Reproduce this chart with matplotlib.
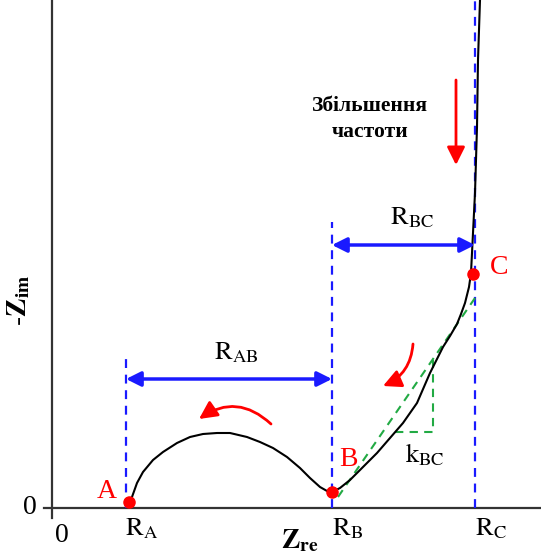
import numpy as np
import matplotlib.pyplot as plt

plt.rcParams['mathtext.fontset'] = 'stix'

# resistances along Z_re (arbitrary units)
R_A = 74
R_B = 280
R_C = 423

# semicircle A -> B
arc_x = [77, 80, 85, 91, 101, 111, 125, 138, 151, 165, 178, 195, 208, 221,
         235, 248, 258, 268, 275, 280]
arc_y = [6, 11, 25, 36, 48, 56, 65, 71, 74, 75, 75, 71, 66, 60,
         51, 40, 30, 21, 17, 16]

# branch B -> C -> up
tail_x = [280, 288, 298, 311, 325, 338, 351, 365, 378, 391, 398, 405, 409,
          413, 417, 419, 420, 422, 423, 425, 426, 428]
tail_y = [16, 20, 28, 41, 55, 70, 85, 105, 135, 161, 172, 184, 194,
          205, 221, 235, 255, 295, 315, 381, 448, 508]

# marked points
pts_x = [77, 280, 421]
pts_y = [6, 16, 234]
pts_lab = ['A', 'B', 'C']

# slope k_BC
slope_x = [286, 423]
slope_y = [11, 210]
tri_x = [343, 381, 381]
tri_y = [76, 76, 148]

fig = plt.figure(figsize=(5.41, 5.58), dpi=100)
ax = fig.add_axes([0, 0, 1, 1])
ax.set_xlim(-52, 489)
ax.set_ylim(-50, 508)
ax.axis('off')

# axes lines
ax.plot([-8, 489], [0, 0], color='#333333', lw=1.6)
ax.plot([0, 0], [-10, 508], color='#333333', lw=1.6)

# blue guides
blue = '#1a1aff'
ax.plot([R_A, R_A], [0, 153], color=blue, lw=1.6, ls=(0, (4, 3)))
ax.plot([R_B, R_B], [0, 286], color=blue, lw=1.6, ls=(0, (4, 3)))
ax.plot([R_C, R_C], [0, 508], color=blue, lw=1.6, ls=(0, (4, 3)))

# green slope
green = '#22aa44'
ax.plot(slope_x, slope_y, color=green, lw=1.5, ls=(0, (4, 3)))
ax.plot(tri_x, tri_y, color=green, lw=1.5, ls=(0, (4, 3)))

# curves
ax.plot(arc_x, arc_y, color='black', lw=1.5, solid_joinstyle='round')
ax.plot(tail_x, tail_y, color='black', lw=1.5, solid_joinstyle='round')
ax.plot(pts_x, pts_y, 'o', color='red', ms=8, zorder=5)

# dimension arrows
for x0, x1, y in [(R_A, R_B, 129), (R_B, R_C, 263)]:
    ax.annotate('', xy=(x1, y), xytext=(x0, y),
                arrowprops=dict(arrowstyle='<|-|>', color=blue, lw=2.5,
                                mutation_scale=22, shrinkA=0, shrinkB=0))

# red direction arrows
red_arrow = dict(arrowstyle='-|>', color='red', lw=2, mutation_scale=27,
                 shrinkA=0, shrinkB=0)
ax.annotate('', xy=(404, 343), xytext=(404, 428), arrowprops=red_arrow)
ax.annotate('', xy=(331, 122), xytext=(361, 164),
            arrowprops=dict(red_arrow, connectionstyle='arc3,rad=-0.3'))
ax.annotate('', xy=(147, 89), xytext=(219, 84),
            arrowprops=dict(red_arrow, connectionstyle='arc3,rad=0.4'))

# labels
fs = 19
serif = 'Liberation Serif'
ax.text(-22, 0, '0', fontsize=20, ha='center', va='center', family=serif)
ax.text(10, -27, '0', fontsize=20, ha='center', va='center', family=serif)
for x, lab in [(R_A, 'A'), (R_B, 'B'), (R_C, 'C')]:
    ax.text(x + 16, -20, r'$\mathrm{R}_{\mathrm{%s}}$' % lab, fontsize=fs,
            ha='center', va='center')
ax.text(248, -32, r'$\mathbf{Z}_{\mathbf{re}}$', fontsize=20,
        ha='center', va='center')
ax.text(-34, 208, r'$\mathbf{\text{-}Z}_{\mathbf{im}}$', fontsize=20,
        ha='center', va='center', rotation=90)
ax.text(184, 156, r'$\mathrm{R}_{\mathrm{AB}}$', fontsize=fs,
        ha='center', va='center')
ax.text(360, 291, r'$\mathrm{R}_{\mathrm{BC}}$', fontsize=fs,
        ha='center', va='center')
ax.text(373, 53, r'$\mathrm{k}_{\mathrm{BC}}$', fontsize=fs,
        ha='center', va='center')
for (x, y), lab, dx, dy in zip(zip(pts_x, pts_y), pts_lab,
                               [-22, 16, 26], [10, 32, 6]):
    ax.text(x + dx, y + dy, lab, fontsize=20, color='red', ha='center',
            va='center', family=serif)

ax.text(318, 389, 'Збільшення\nчастоти', fontsize=15.5, fontweight='bold',
        family=serif, ha='center', va='center', linespacing=1.35)

fig.savefig('out.png', dpi=100)
